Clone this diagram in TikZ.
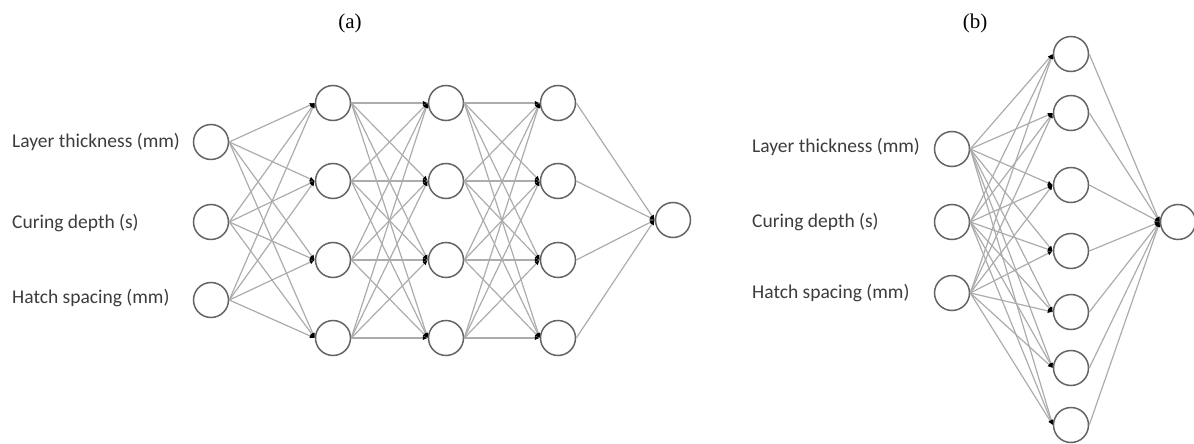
\documentclass[tikz,border=0pt]{standalone}
\usepackage{fontspec}
\setmainfont{Liberation Serif}
\newfontfamily\labelfont{Carlito}
\usetikzlibrary{arrows.meta}
\definecolor{edgegray}{RGB}{172,172,172}
\definecolor{ringgray}{RGB}{100,100,100}
\definecolor{textgray}{RGB}{60,60,60}
\begin{document}
\begin{tikzpicture}[x=1pt,y=-1pt,
  neuron/.style={circle,draw=ringgray,line width=1.5pt,minimum size=35pt,inner sep=0pt,fill=white},
  conn/.style={draw=edgegray,line width=1.2pt,-{Latex[length=5pt,width=4.5pt,black]}},
  inlabel/.style={anchor=west,font=\labelfont\fontsize{19.5}{22}\selectfont,text=textgray,inner sep=0pt},
  paneltitle/.style={font=\fontsize{21}{25}\selectfont,inner sep=0pt}]
\useasboundingbox (0,0) rectangle (1194,444);

% ---------- titles ----------
\node[paneltitle] (ta) at (350,23) {(a)};
\node[paneltitle] (tb) at (975,23) {(b)};

% ---------- panel (a) ----------
\node[neuron] (ai1) at (211,142) {};
\node[neuron] (ai2) at (211,222) {};
\node[neuron] (ai3) at (211,300) {};
\node[inlabel] (al1) at (12,142) {Layer thickness (mm)};
\node[inlabel] (al2) at (12,223) {Curing depth (s)};
\node[inlabel] (al3) at (12,298) {Hatch spacing (mm)};
\foreach \j/\y in {1/103,2/181,3/260,4/338}{
  \node[neuron] (ah1\j) at (333,\y) {};
  \node[neuron] (ah2\j) at (446,\y) {};
  \node[neuron] (ah3\j) at (558,\y) {};
}
\node[neuron] (ao) at (673,220) {};
\foreach \i in {1,2,3}{
  \foreach \j in {1,2,3,4}{
    \draw[conn] (ai\i.east) -- (ah1\j.west);
  }
}
\foreach \i in {1,2,3,4}{
  \foreach \j in {1,2,3,4}{
    \draw[conn] (ah1\i.east) -- (ah2\j.west);
    \draw[conn] (ah2\i.east) -- (ah3\j.west);
  }
  \draw[conn] (ah3\i.east) -- (ao.west);
}

% ---------- panel (b) ----------
\node[neuron] (bi1) at (952,149) {};
\node[neuron] (bi2) at (952,222) {};
\node[neuron] (bi3) at (952,293) {};
\node[inlabel] (bl1) at (752,147) {Layer thickness (mm)};
\node[inlabel] (bl2) at (752,222) {Curing depth (s)};
\node[inlabel] (bl3) at (752,293) {Hatch spacing (mm)};
\foreach \j/\y in {1/54,2/113,3/185,4/251,5/312,6/368,7/425}{
  \node[neuron] (bh\j) at (1071,\y) {};
}
\node[neuron] (bo) at (1178,222) {};
\foreach \j in {1,...,7}{
  \foreach \i in {1,2,3}{
    \draw[conn] (bi\i.east) -- (bh\j.west);
  }
  \draw[conn] (bh\j.east) -- (bo.west);
}
\end{tikzpicture}
\end{document}
